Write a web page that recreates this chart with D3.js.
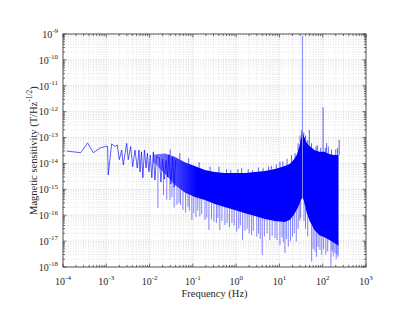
<!DOCTYPE html>
<html><head><meta charset="utf-8">
<script src="https://cdn.jsdelivr.net/npm/d3@7"></script>
<style>body{margin:0;background:#fff}</style>
</head><body><svg id="c" width="415" height="312"></svg>
<script>
// ---------- data ----------
const xTickExp = [-4, -3, -2, -1, 0, 1, 2, 3];
const yTickExp = [-18, -17, -16, -15, -14, -13, -12, -11, -10, -9];

// sparse low-frequency trace
const lowF = [1.22e-4, 2.57e-4, 3.7e-4, 5.0e-4, 7.1e-4, 9.3e-4, 1.07e-3, 1.11e-3, 1.33e-3, 1.59e-3,
  1.79e-3, 2.0e-3, 2.27e-3, 2.47e-3, 2.96e-3, 3.22e-3, 3.66e-3, 4.07e-3, 4.6e-3, 5.2e-3,
  5.7e-3, 6.0e-3, 6.5e-3, 7.0e-3, 7.6e-3, 8.3e-3, 8.9e-3, 9.7e-3, 1.04e-2, 1.13e-2,
  1.22e-2, 1.33e-2, 1.44e-2, 1.69e-2, 1.83e-2, 2.0e-2, 2.2e-2, 2.4e-2, 2.6e-2, 2.8e-2,
  3.1e-2, 3.4e-2, 3.7e-2, 4.0e-2];
const lowV = [3.0e-14, 2.6e-14, 6.2e-14, 2.6e-14, 3.9e-14, 4.5e-14, 4.6e-14, 3.6e-15, 5.7e-14, 4.5e-14,
  5.2e-14, 1.4e-14, 3.3e-14, 8.7e-15, 6.0e-14, 1.4e-14, 4.5e-14, 7.5e-15, 3.3e-14, 6.7e-15,
  3.3e-14, 4.7e-15, 2.8e-14, 2.8e-15, 3.3e-14, 6.7e-15, 2.5e-14, 4.7e-15, 2.1e-14, 2.8e-15,
  2.8e-14, 2.3e-15, 1.9e-14, 1.6e-14, 1.9e-15, 1.5e-14, 2.5e-15, 1.3e-14, 3.0e-15, 2.2e-14,
  1.6e-15, 1.7e-14, 1.2e-15, 1.4e-14];

// dense band: upper / lower envelope, left and right of the 34 Hz line
const bandLF  = [1.2e-2, 2.25e-2, 3.8e-2, 6.5e-2, 0.11, 0.19, 0.32, 0.54, 0.92, 1.6, 2.7, 4.6, 7.8, 13.3, 17.3, 21.3, 25, 28.4, 31.5, 33.3];
const bandLHi = [2.2e-14, 2.4e-14, 1.8e-14, 1.1e-14, 8.0e-15, 5.6e-15, 4.7e-15, 4.3e-15, 4.3e-15, 4.3e-15, 4.7e-15, 5.1e-15, 6.1e-15, 8.0e-15, 9.5e-15, 1.4e-14, 2.1e-14, 4.0e-14, 9.5e-14, 1.3e-13];
const bandLLo = [1.2e-14, 4.0e-15, 1.5e-15, 7.5e-16, 5.1e-16, 3.9e-16, 2.7e-16, 2.1e-16, 1.6e-16, 1.2e-16, 9.3e-17, 7.2e-17, 6.0e-17, 5.5e-17, 6.6e-17, 1.0e-16, 1.6e-16, 2.5e-16, 3.9e-16, 4.5e-16];
const bandRF  = [35, 38.7, 42.9, 50, 64, 83.6, 109, 142, 185, 232];
const bandRHi = [1.4e-13, 9.5e-14, 6.2e-14, 4.7e-14, 3.3e-14, 2.8e-14, 2.8e-14, 2.3e-14, 2.1e-14, 2.1e-14];
const bandRLo = [4.5e-16, 2.5e-16, 1.2e-16, 6.0e-17, 2.7e-17, 1.7e-17, 1.4e-17, 1.1e-17, 8.5e-18, 6.5e-18];

// downward excursions below the band
const downF = [1.56e-2, 2.1e-2, 2.5e-2, 2.96e-2, 3.3e-2, 3.7e-2, 4.3e-2, 4.8e-2, 5.2e-2, 5.9e-2,
  6.8e-2, 7.7e-2, 8.3e-2, 9.5e-2, 0.105, 0.118, 0.13, 0.145, 0.16, 0.19,
  0.21, 0.235, 0.27, 0.307, 0.35, 0.38, 0.42, 0.47, 0.55, 0.62,
  0.7, 0.8, 0.9, 1.03, 1.15, 1.25, 1.41, 1.6, 1.8, 2.0,
  2.28, 2.5, 3.0, 3.3, 3.6, 4.0, 4.5, 5.2, 6.0, 6.8,
  7.9, 8.8, 10.3, 11.5, 12.3, 13.4, 14.5, 16, 18, 20,
  22, 24.5, 27, 29.5, 31, 37, 40, 45, 55.5, 60,
  66, 72, 78, 86, 95, 105, 118, 130, 155, 165,
  175, 191, 205, 215, 228];
const downV = [1.9e-16, 6e-16, 4e-16, 3.9e-16, 5e-16, 2e-16, 2.5e-16, 3e-16, 2.5e-16, 1.6e-16,
  1.3e-16, 2.1e-16, 1.5e-16, 6.6e-17, 1.2e-16, 8.6e-17, 1.5e-16, 9e-17, 1.1e-16, 6.6e-17,
  8e-17, 2.7e-17, 7e-17, 5.7e-17, 5e-17, 8e-17, 2.7e-17, 6e-17, 4.2e-17, 5e-17,
  3.5e-17, 5e-17, 4e-17, 2.3e-17, 3e-17, 4e-17, 1.1e-17, 2.5e-17, 3e-17, 2e-17,
  1.7e-17, 2.5e-17, 1.5e-17, 2e-17, 1.2e-17, 2.9e-18, 1.5e-17, 2e-17, 1.1e-17, 1.6e-17,
  1.3e-17, 1.1e-17, 7.1e-18, 1.4e-17, 9e-18, 3.5e-18, 1.2e-17, 6.2e-18, 1e-17, 1.5e-17,
  2e-17, 9.6e-18, 3e-17, 6e-17, 8e-17, 6e-17, 3e-17, 1.5e-17, 1.6e-18, 5e-18,
  4e-18, 2.5e-18, 6e-18, 4.6e-18, 3e-18, 5e-18, 3e-18, 4e-18, 9.0e-19, 4e-18,
  2.5e-18, 3.4e-18, 2e-18, 3e-18, 2.5e-18];

// upward excursions above the band
const upF = [0.03, 0.05, 0.08, 0.14, 0.25, 0.40, 0.6, 0.75, 1.1, 1.34,
  1.9, 2.4, 3.3, 4.2, 5.6, 6.5, 8.5, 10.3, 12, 15,
  19, 23, 27, 30, 32.5, 36.5, 40, 45, 49, 55,
  70, 75, 90, 102, 115, 123, 135, 160, 200, 220, 240];
const upV = [3.5e-14, 2.5e-14, 1.6e-14, 1.1e-14, 7.5e-15, 7.5e-15, 6e-15, 5.5e-15, 6e-15, 6.5e-15,
  6e-15, 5.5e-15, 7e-15, 6.5e-15, 7.5e-15, 8e-15, 9e-15, 1.2e-14, 1.2e-14, 1.5e-14,
  2.1e-14, 2.5e-14, 6e-14, 1.2e-13, 1.9e-13, 1.6e-13, 1.2e-13, 8e-14, 1.95e-13, 6e-14,
  4.5e-14, 5e-14, 4e-14, 1.5e-12, 4e-14, 6.2e-14, 4.5e-14, 3.5e-14, 3.5e-14, 4e-14, 8.1e-14];

// the main line
const peakF = [34];
const peakV = [8.5e-10];

// ---------- layout ----------
const L = 63, R = 366, T = 34, B = 267;
const svg = d3.select("#c");
const x = d3.scaleLog().domain([1e-4, 1e3]).range([L, R]);
const y = d3.scaleLog().domain([1e-18, 1e-9]).range([B, T]);
const FONT = "Liberation Serif, Times New Roman, serif";
const AX = "#333";

// grid
const xMinor = [], yMinor = [];
xTickExp.slice(0, -1).forEach(e => { for (let k = 2; k < 10; k++) xMinor.push(k * Math.pow(10, e)); });
yTickExp.slice(0, -1).forEach(e => { for (let k = 2; k < 10; k++) yMinor.push(k * Math.pow(10, e)); });
const xMajor = xTickExp.map(e => Math.pow(10, e));
const yMajor = yTickExp.map(e => Math.pow(10, e));

const grid = svg.append("g");
function gridLines(vals, vertical, color, w) {
  grid.selectAll(null).data(vals).join("line")
    .attr("x1", d => vertical ? x(d) : L).attr("x2", d => vertical ? x(d) : R)
    .attr("y1", d => vertical ? T : y(d)).attr("y2", d => vertical ? B : y(d))
    .attr("stroke", color).attr("stroke-width", w).attr("stroke-dasharray", "1,1.5");
}
gridLines(xMinor, true, "#d6d6d6", 0.6);
gridLines(yMinor, false, "#d6d6d6", 0.6);
gridLines(xMajor, true, "#c2c2c2", 0.7);
gridLines(yMajor, false, "#c2c2c2", 0.7);

// clip
const defs = svg.append("defs");
defs.append("clipPath").attr("id", "clip").append("rect")
  .attr("x", L).attr("y", T).attr("width", R - L).attr("height", B - T);
const grad = defs.append("linearGradient").attr("id", "fadeIn").attr("gradientUnits", "userSpaceOnUse")
  .attr("x1", x(1.2e-2)).attr("x2", x(0.12)).attr("y1", 0).attr("y2", 0);
grad.append("stop").attr("offset", 0).attr("stop-color", "#0000ff").attr("stop-opacity", 0.45);
grad.append("stop").attr("offset", 1).attr("stop-color", "#0000ff").attr("stop-opacity", 1);
const plot = svg.append("g").attr("clip-path", "url(#clip)");

// interpolation helper (log-log) over band envelopes
const allF = bandLF.concat(bandRF), allHi = bandLHi.concat(bandRHi), allLo = bandLLo.concat(bandRLo);
function interp(arrF, arrV, f) {
  if (f <= arrF[0]) return arrV[0];
  if (f >= arrF[arrF.length - 1]) return arrV[arrV.length - 1];
  let i = 0; while (arrF[i + 1] < f) i++;
  const t = (Math.log(f) - Math.log(arrF[i])) / (Math.log(arrF[i + 1]) - Math.log(arrF[i]));
  return Math.exp(Math.log(arrV[i]) + t * (Math.log(arrV[i + 1]) - Math.log(arrV[i])));
}

const BLUE = "#0000ff";
const area = d3.area().x(d => x(d.f)).y0(d => y(d.lo)).y1(d => y(d.hi));
const leftBand = bandLF.map((f, i) => ({ f, hi: bandLHi[i], lo: bandLLo[i] }));
const rightBand = bandRF.map((f, i) => ({ f, hi: bandRHi[i], lo: bandRLo[i] }));
plot.append("path").datum(leftBand).attr("d", area).attr("fill", "url(#fadeIn)");
plot.append("path").datum(rightBand).attr("d", area).attr("fill", BLUE);

// low-frequency line
const line = d3.line().x(d => x(d[0])).y(d => y(d[1]));
plot.append("path").datum(lowF.map((f, i) => [f, lowV[i]]))
  .attr("d", line).attr("fill", "none").attr("stroke", BLUE).attr("stroke-width", 0.8).attr("stroke-opacity", 0.8);

// spikes
plot.selectAll(".dn").data(downF.map((f, i) => [f, downV[i]])).join("line")
  .attr("x1", d => x(d[0])).attr("x2", d => x(d[0]))
  .attr("y1", d => y(interp(allF, allLo, d[0]))).attr("y2", d => y(d[1]))
  .attr("stroke", BLUE).attr("stroke-width", 0.9).attr("stroke-opacity", 0.55);
plot.selectAll(".up").data(upF.map((f, i) => [f, upV[i]])).join("line")
  .attr("x1", d => x(d[0])).attr("x2", d => x(d[0]))
  .attr("y1", d => y(interp(allF, allHi, d[0]))).attr("y2", d => y(d[1]))
  .attr("stroke", BLUE).attr("stroke-width", 0.9).attr("stroke-opacity", 0.7);
plot.selectAll(".pk").data(peakF.map((f, i) => [f, peakV[i]])).join("line")
  .attr("x1", d => x(d[0])).attr("x2", d => x(d[0]))
  .attr("y1", d => y(interp(allF, allLo, d[0]))).attr("y2", d => y(d[1]))
  .attr("stroke", BLUE).attr("stroke-width", 0.9).attr("stroke-opacity", 0.55);

// box
svg.append("rect").attr("x", L).attr("y", T).attr("width", R - L).attr("height", B - T)
  .attr("fill", "none").attr("stroke", AX).attr("stroke-width", 0.8);

// ticks (inward, all four sides)
const tk = svg.append("g").attr("stroke", AX).attr("stroke-width", 0.7);
function xt(vals, len) {
  vals.forEach(v => {
    tk.append("line").attr("x1", x(v)).attr("x2", x(v)).attr("y1", B).attr("y2", B - len);
    tk.append("line").attr("x1", x(v)).attr("x2", x(v)).attr("y1", T).attr("y2", T + len);
  });
}
function yt(vals, len) {
  vals.forEach(v => {
    tk.append("line").attr("y1", y(v)).attr("y2", y(v)).attr("x1", L).attr("x2", L + len);
    tk.append("line").attr("y1", y(v)).attr("y2", y(v)).attr("x1", R).attr("x2", R - len);
  });
}
xt(xMajor, 3.5); xt(xMinor, 2); yt(yMajor, 3.5); yt(yMinor, 2);

// tick labels
const lab = svg.append("g").attr("font-family", FONT).attr("fill", "#262626");
xTickExp.forEach(e => {
  const t = lab.append("text").attr("x", x(Math.pow(10, e))).attr("y", 284.5)
    .attr("text-anchor", "middle").attr("font-size", 10);
  t.append("tspan").text("10");
  t.append("tspan").attr("dy", -4.5).attr("font-size", 7).text(String(e));
});
yTickExp.forEach(e => {
  const t = lab.append("text").attr("x", 58).attr("y", y(Math.pow(10, e)) + 3.8)
    .attr("text-anchor", "end").attr("font-size", 10);
  t.append("tspan").text("10");
  t.append("tspan").attr("dy", -4.5).attr("font-size", 7).text(String(e));
});

// axis titles
lab.append("text").attr("x", (L + R) / 2).attr("y", 296.5).attr("text-anchor", "middle")
  .attr("font-size", 10.5).text("Frequency (Hz)");
const yl = lab.append("text").attr("transform", `translate(36.5,${(T + B) / 2}) rotate(-90)`)
  .attr("text-anchor", "middle").attr("font-size", 10.5);
yl.append("tspan").text("Magnetic sensitivity (T/Hz");
yl.append("tspan").attr("dy", -4.5).attr("font-size", 7.5).text("-1/2");
yl.append("tspan").attr("dy", 4.5).text(")");
</script></body></html>
